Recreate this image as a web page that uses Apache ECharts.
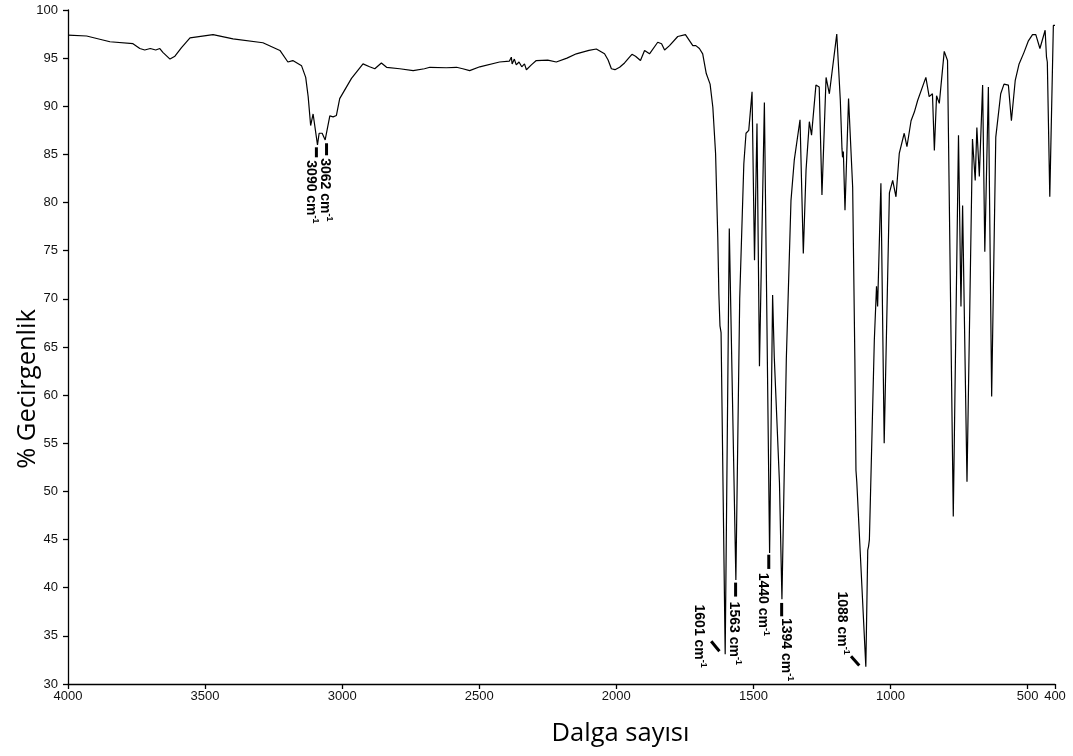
<!DOCTYPE html>
<html>
<head>
<meta charset="utf-8">
<script src="https://cdn.jsdelivr.net/npm/echarts@6/dist/echarts.min.js"></script>
<style>
html,body{margin:0;padding:0;background:#fff;}
#chart{width:1073px;height:756px;}
</style>
</head>
<body>
<div id="chart"></div>
<script>
// ---- data ----
var wavenumbers = [4000,3932,3847,3763,3738,3720,3700,3680,3665,3654,3628,3610,3586,3555,3471,3398,3289,3227,3198,3180,3148,3133,3124,3115,3106,3090,3084,3073,3062,3045,3033,3021,3009,2966,2924,2900,2881,2857,2838,2790,2741,2735,2700,2680,2620,2583,2560,2535,2498,2426,2390,2383,2380,2372,2365,2355,2345,2335,2328,2310,2292,2250,2219,2180,2146,2100,2073,2043,2030,2018,2005,1988,1970,1952,1943,1930,1912,1897,1879,1849,1835,1824,1806,1776,1748,1721,1710,1697,1685,1672,1658,1648,1638,1630,1626,1622,1618,1603,1588,1564,1550,1535,1527,1517,1505,1496,1487,1478,1460,1441,1430,1424,1405,1396,1380,1363,1351,1330,1318,1308,1296,1288,1272,1260,1250,1235,1223,1196,1183,1177,1175,1172,1166,1153,1138,1130,1126,1123,1090,1083,1080,1077,1059,1051,1047,1035,1023,1004,992,980,968,950,940,925,913,901,871,859,847,840,832,822,804,792,771,752,743,737,721,701,691,685,676,664,656,643,631,616,598,586,570,559,545,531,513,497,482,470,455,436,431,428,419,406,400];
var transmittance = [97.4,97.3,96.7,96.5,96.0,95.85,96.0,95.85,96.0,95.6,94.9,95.2,96.1,97.1,97.45,97.0,96.6,95.8,94.6,94.75,94.2,93.0,91.0,88.0,89.2,86.0,87.2,87.2,86.5,89.0,88.9,89.05,90.8,92.9,94.4,94.1,93.9,94.5,94.05,93.9,93.7,93.5,93.9,94.05,94.0,94.05,93.9,93.7,94.1,94.6,94.7,95.1,94.4,94.9,94.3,94.6,94.1,94.4,93.8,94.3,94.75,94.8,94.6,95.0,95.45,95.8,95.95,95.45,94.8,93.9,93.8,94.05,94.5,95.1,95.4,95.2,94.75,95.8,95.45,96.65,96.5,95.85,96.3,97.25,97.45,96.3,96.3,96.0,95.45,93.4,92.3,89.9,85.1,76.4,70.5,67.2,66.5,33.1,77.3,40.8,70.0,84.0,87.2,87.5,91.5,74.0,88.2,63.0,90.4,43.6,70.4,64.0,50.9,38.8,63.7,80.2,84.4,88.6,74.7,83.4,88.4,87.0,92.2,92.0,80.8,93.0,91.3,97.5,90.6,85.6,84.7,85.3,79.2,90.8,81.6,63.7,52.2,51.0,31.8,43.9,44.3,45.0,65.7,71.3,69.2,82.0,55.0,81.0,82.3,80.6,85.1,87.2,85.8,88.5,89.4,90.6,93.0,91.0,91.3,85.4,91.1,90.3,95.7,94.75,47.4,87.0,69.2,79.7,51.0,86.6,82.3,87.8,82.7,92.2,74.9,92.0,59.85,86.8,91.3,92.3,92.2,88.5,92.7,94.4,95.6,96.8,97.45,97.45,96.0,97.9,95.1,94.6,80.6,98.4,98.4];

var xTickValues = [4000,3500,3000,2500,2000,1500,1000,500,400];
var yMin = 30, yMax = 100, yStep = 5;

// peak annotations: label, marker start (wn, %T), marker end (wn, %T)
var peakLabels = ['3090','3062','1601','1563','1440','1394','1088'];
var markerStartWn = [3094,3057,1654,1565,1444,1397,1144];
var markerStartT  = [85.74,86.16,34.44,40.53,43.43,38.42,32.89];
var markerEndWn   = [3094,3057,1624,1565,1444,1397,1114];
var markerEndT    = [84.70,84.91,33.40,39.08,41.95,37.03,31.92];

// label placement (pixels, relative to marker start) - styling only
var labelOffsets = [[-4.7,13],[-1,15],[-11.7,-36.7],[-0.5,19],[-5.3,18],[5.7,15],[-7.7,-64.7]];

var spectrum = wavenumbers.map(function(w,i){return [w, transmittance[i]];});
var markers = peakLabels.map(function(l,i){return [markerStartWn[i], markerStartT[i], markerEndWn[i], markerEndT[i]];});

var chart = echarts.init(document.getElementById('chart'), null, {renderer:'canvas'});
var axisFont = 'Liberation Sans, Arial, sans-serif';
function plain(v){ return String(v); }
chart.setOption({
  animation:false,
  backgroundColor:'#fff',
  grid:{left:68, right:18, top:10, bottom:72, containLabel:false, outerBoundsMode:'none'},
  xAxis:{
    type:'value', inverse:true, min:400, max:4000, interval:100,
    name:'Dalga sayısı', nameLocation:'middle', nameGap:37, nameMoveOverlap:false,
    nameTextStyle:{fontFamily:'Open Sans', fontSize:25.5, color:'#000', padding:[0,0,0,118]},
    axisLine:{show:true, onZero:false, lineStyle:{color:'#000', width:1.3}},
    axisTick:{show:true, inside:false, length:5, customValues:xTickValues, lineStyle:{color:'#000', width:1.3}},
    axisLabel:{show:true, customValues:xTickValues, margin:6, fontFamily:axisFont, fontSize:13, color:'#111',
      showMinLabel:true, showMaxLabel:true, formatter:plain},
    splitLine:{show:false}
  },
  yAxis:{
    type:'value', min:yMin, max:yMax, interval:yStep,
    name:'% Gecirgenlik', nameLocation:'middle', nameGap:27, nameRotate:90, nameMoveOverlap:false,
    nameTextStyle:{fontFamily:'Open Sans', fontSize:25.5, color:'#000', padding:[0,84,0,0]},
    axisLine:{show:true, onZero:false, lineStyle:{color:'#000', width:1.3}},
    axisTick:{show:true, inside:false, length:5, lineStyle:{color:'#000', width:1.3}},
    axisLabel:{margin:10, fontFamily:axisFont, fontSize:13, color:'#111', formatter:plain},
    splitLine:{show:false}
  },
  series:[
    {
      type:'line', data:spectrum, showSymbol:false, symbol:'none', smooth:false,
      sampling:null, lineStyle:{color:'#000', width:1.2}, z:2
    },
    {
      type:'custom', data:markers, z:3, clip:false,
      renderItem:function(params, api){
        var i = params.dataIndex;
        var p1 = api.coord([api.value(0), api.value(1)]);
        var p2 = api.coord([api.value(2), api.value(3)]);
        var off = labelOffsets[i];
        return {
          type:'group',
          children:[
            {type:'line', shape:{x1:p1[0], y1:p1[1], x2:p2[0], y2:p2[1]},
             style:{stroke:'#000', lineWidth:3}},
            {type:'text', x:p1[0]+off[0], y:p1[1]+off[1], rotation:-Math.PI/2,
             style:{
               text:'{n|'+peakLabels[i]+' cm}{s|-1}',
               x:0, y:0, align:'left', verticalAlign:'middle', fill:'#000',
               rich:{
                 n:{fontFamily:axisFont, fontWeight:'bold', fontSize:14, lineHeight:16, verticalAlign:'bottom', fill:'#000'},
                 s:{fontFamily:axisFont, fontWeight:'bold', fontSize:9, lineHeight:8, verticalAlign:'top', fill:'#000'}
               }
             }}
          ]
        };
      }
    }
  ]
});
</script>
</body>
</html>
